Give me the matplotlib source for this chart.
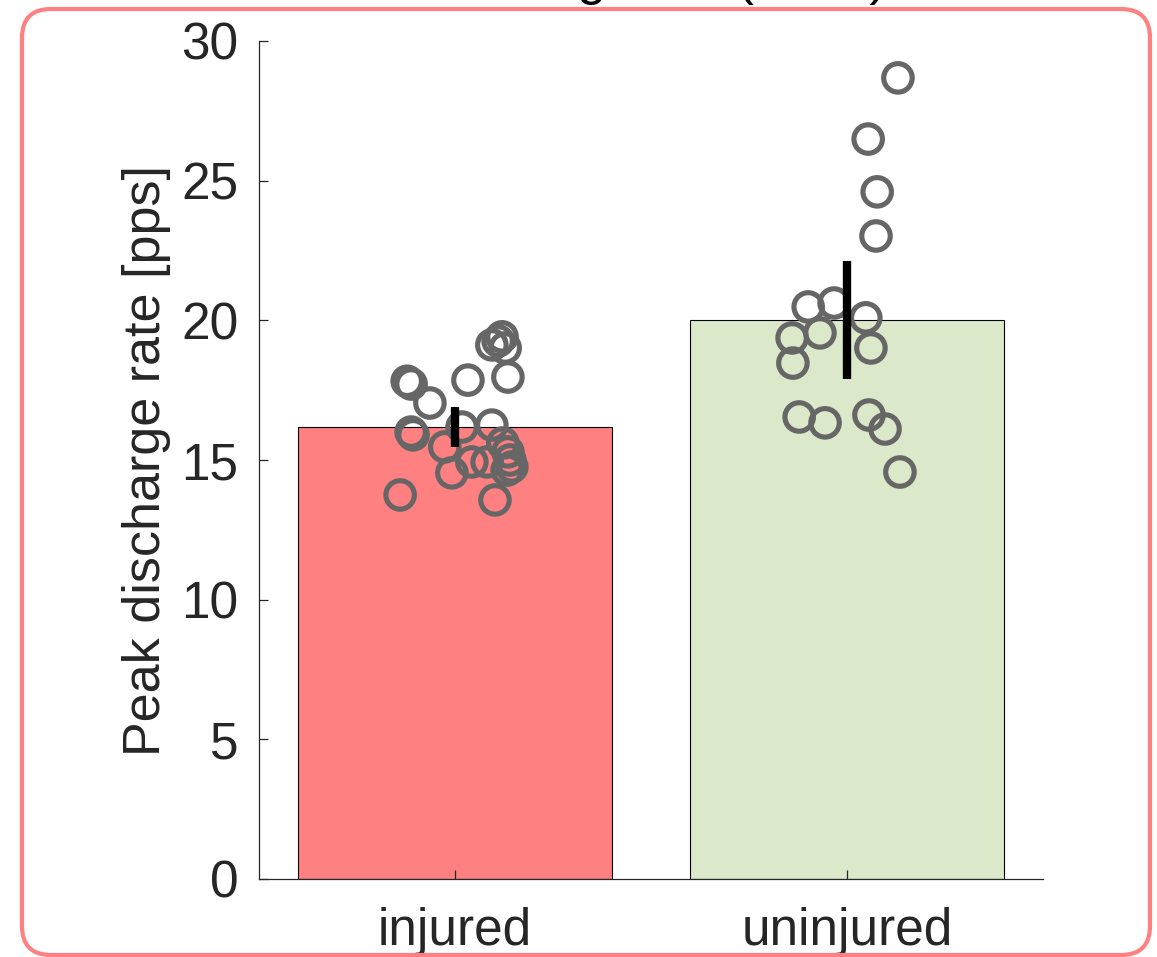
import matplotlib
matplotlib.use("Agg")
import matplotlib.pyplot as plt
from matplotlib.patches import FancyBboxPatch
import numpy as np

# ---------------- data ----------------
categories = ["injured", "uninjured"]
bar_means = [16.18, 20.01]
ci_half = [0.73, 2.12]

injured_vals = [17.82, 17.72, 17.04, 17.86, 17.97, 19.12, 19.41, 19.01, 19.26,
                16.00, 15.90, 16.18, 16.25, 15.47, 14.54, 14.93, 14.93,
                15.61, 15.29, 15.00, 14.75, 14.64, 13.75, 13.57]
injured_jitter = [-0.122, -0.112, -0.064, 0.033, 0.135, 0.094, 0.120, 0.128, 0.110,
                  -0.112, -0.107, 0.018, 0.094, -0.026, -0.008, 0.043, 0.082,
                  0.122, 0.135, 0.140, 0.145, 0.133, -0.140, 0.102]

uninjured_vals = [28.68, 26.49, 24.60, 23.02, 20.48, 20.62, 20.09, 19.55,
                  19.37, 19.01, 18.47, 16.54, 16.33, 16.61, 16.11, 14.57]
uninjured_jitter = [0.130, 0.054, 0.077, 0.074, -0.099, -0.033, 0.048, -0.069,
                    -0.140, 0.061, -0.138, -0.122, -0.056, 0.056, 0.097, 0.135]

yticks = [0, 5, 10, 15, 20, 25, 30]
ylabel = "Peak discharge rate [pps]"
title = "Medial gastro (MVC)"

# ---------------- figure ----------------
W, H, DPI = 1157, 957, 100
fig = plt.figure(figsize=(W / DPI, H / DPI), dpi=DPI)
plt.rcParams['font.family'] = ['Liberation Sans', 'DejaVu Sans']

# rounded border
border = FancyBboxPatch((22 / W, (H - 955) / H), (1150 - 22) / W, (955 - 9) / H,
                        boxstyle="round,pad=0,rounding_size=0.025",
                        transform=fig.transFigure, facecolor="none",
                        edgecolor="#FF8080", linewidth=3, zorder=0,
                        mutation_aspect=W / H)
fig.patches.append(border)

ax = fig.add_axes([259 / W, 78 / H, 784 / W, 838 / H])
ax.set_facecolor("none")

x = np.arange(1, len(categories) + 1)
bar_colors = ["#FF8080", "#DBE8C9"]
ax.bar(x, bar_means, width=0.8, color=bar_colors, edgecolor="black",
       linewidth=0.8, zorder=1)

ax.scatter(x[0] + np.array(injured_jitter), injured_vals, s=20.5 ** 2,
           facecolors="none", edgecolors="#666666", linewidths=3.7, zorder=3)
ax.scatter(x[1] + np.array(uninjured_jitter), uninjured_vals, s=20.5 ** 2,
           facecolors="none", edgecolors="#666666", linewidths=3.7, zorder=3)

ax.errorbar(x, bar_means, yerr=ci_half, fmt="none", ecolor="black",
            elinewidth=6, capsize=0, zorder=4)

ax.set_xlim(0.5, 2.5)
ax.set_ylim(0, 30)
ax.set_yticks(yticks)
ax.set_xticks(x)
ax.set_xticklabels(categories)

for s in ["top", "right"]:
    ax.spines[s].set_visible(False)
for s in ["left", "bottom"]:
    ax.spines[s].set_color("#262626")
    ax.spines[s].set_linewidth(0.9)

ax.tick_params(axis="both", direction="in", length=6.5, width=0.9,
               color="#262626", labelsize=37, labelcolor="#262626")
ax.tick_params(axis="x", pad=20)
ax.tick_params(axis="y", pad=15)

ax.set_ylabel(ylabel, fontsize=37.5, color="#262626")
ax.yaxis.set_label_coords(-0.112, 0.5)

fig.text(648 / W, 1 + 6 / H, title, ha="center", va="baseline",
         fontsize=37.5, color="black")

fig.savefig("out.png", dpi=DPI)
